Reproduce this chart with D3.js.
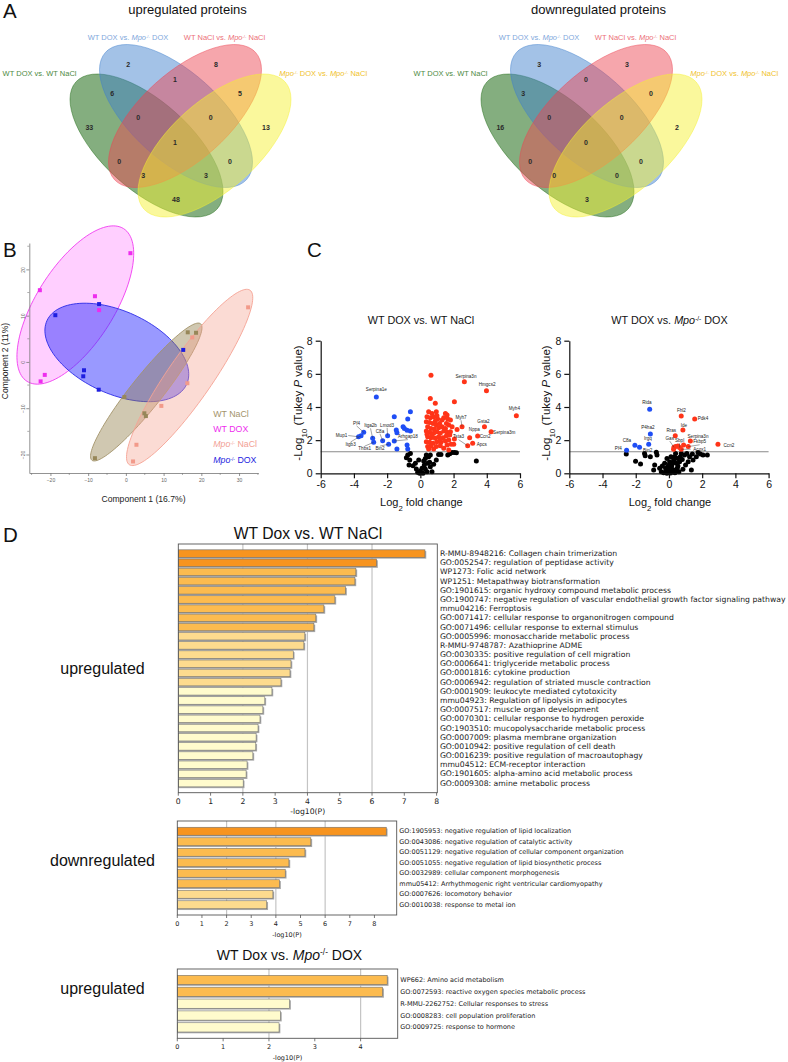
<!DOCTYPE html>
<html><head><meta charset="utf-8">
<script src="https://cdn.jsdelivr.net/npm/d3@7"></script>
<style>
body{margin:0;background:#fff;}
svg{display:block;font-family:"Liberation Sans",Arial,Helvetica,sans-serif;}
text{white-space:pre;}
</style>
</head><body>
<svg id="fig" width="788" height="1062"></svg>
<script>
// ================= DATA =================
// Panel A: Venn
const vennNames = ["WT DOX vs. WT NaCl","WT DOX vs. Mpo-/- DOX","WT NaCl vs. Mpo-/- NaCl","Mpo-/- DOX vs. Mpo-/- NaCl"];
const vennRegions = ["B","R","BR","GB","RY","G","GBR","BRY","Y","GBRY","GR","BY","GRY","GBY","GY"];
const vennUpCounts   = [2,8,1,6,5,33,0,0,13,1,0,0,3,3,48];
const vennDownCounts = [3,3,0,3,0,16,0,0,2,0,0,0,0,0,3];
const vennTitles = ["upregulated proteins","downregulated proteins"];

// Panel B: PCA scores (Component 1, Component 2)
const pcaGroups = ["WT NaCl","WT DOX","Mpo-/- NaCl","Mpo-/- DOX"];
const pcaWTNaClX  = [16.4,18.6,-0.4,4.9,5.3,-8.2];
const pcaWTNaClY  = [6.4,6.3,-7.6,-11.1,-11.7,-20.8];
const pcaWTDOXX   = [-22.8,-8.2,-7.1,-21.5,-22.6,1.2];
const pcaWTDOXY   = [15.5,14.2,11.2,-2.8,-4.2,23.5];
const pcaMpoNaClX = [32.4,17.6,16.3,9.4,2.8,1.9];
const pcaMpoNaClY = [11.8,5.3,-4.6,-9.5,-17.9,-21.5];
const pcaMpoDOXX  = [-7.1,-18.7,15.2,-11.1,-11.3,-7.2];
const pcaMpoDOXY  = [12.5,10.1,2.6,-1.8,-3.1,-6.0];
// confidence ellipses: centre, major semi-axis vector, minor semi-axis vector (data units)
const pcaEllipseCentre = [[5.4,-6.5],[-13.4,12.3],[16.9,-3.35],[-2.4,2.05]];
const pcaEllipseMajor  = [[14.4,14.75],[12.8,16.5],[16.0,18.85],[18.5,-6.9]];
const pcaEllipseMinor  = [[3.3,-2.1],[8.7,-4.5],[4.9,-2.7],[-4.6,-8.1]];
const pcaXTicks = [-20,-10,0,10,20,30];
const pcaYTicks = [-20,-10,0,10,20];

// Panel C: volcano plots [log2FC, -log10 P]
const sigLine = 1.3;
const v1Down = [[-2.65,4.61],[-0.6,3.71],[-1.57,3.41],[-0.76,3.27],[-1.04,2.81],[-0.96,2.71],[-0.8,2.59],[-0.6,2.55],
  [-1.45,2.61],[-1.41,2.45],[-1.97,2.27],[-2.27,1.96],[-1.57,1.95],[-2.87,2.11],[-3.41,2.47],[-3.57,2.27],[-3.72,2.2],
  [-2.81,1.87],[-1.91,1.76],[-1.41,1.46],[-0.8,1.7],[-0.76,1.46]];
const v1Up = [[0.64,5.92],[2.65,5.52],[3.98,4.98],[5.78,3.47],[0.6,4.52],[2.05,4.32],[0.9,4.22],[2.51,2.81],[3.86,2.81],
  [2.97,2.15],[4.26,2.51],[3.45,2.25],[2.85,1.66],[3.15,1.81],[2.21,2.65],[2.05,2.07],[2.01,1.75],
  [0.50,3.71],[0.70,3.61],[0.96,3.71],[1.51,3.61],[1.61,3.51],[0.40,3.41],[0.60,3.35],[0.80,3.41],[1.04,3.27],[1.41,3.35],
  [1.65,3.27],[0.36,3.11],[0.56,3.07],[0.76,3.01],[0.96,2.91],[1.16,3.01],[0.44,2.81],[0.64,2.71],[0.84,2.67],[1.10,2.75],
  [1.31,2.81],[1.51,2.71],[1.71,2.91],[0.36,2.55],[0.56,2.47],[0.80,2.41],[1.00,2.51],[1.20,2.41],[1.41,2.55],[1.61,2.47],
  [1.81,2.51],[0.44,2.21],[0.64,2.15],[0.90,2.11],[1.10,2.21],[1.37,2.15],[1.57,2.27],[1.77,2.31],[0.36,1.91],[0.56,1.87],
  [0.76,1.81],[1.00,1.91],[1.24,1.87],[1.51,1.95],[1.71,2.01],[0.44,1.61],[0.64,1.66],[0.96,1.61],[1.20,1.66],[1.61,1.70],
  [1.85,1.75],[0.80,1.47],[0.50,1.47],[1.41,1.51],[1.71,1.41],[1.91,2.81],[1.81,3.21],[0.90,3.15],[0.70,2.31],[1.31,3.21],
  [1.00,3.47],[1.57,3.01],[0.40,2.35],[1.20,2.01]];
const v1NS = [[-0.6,1.2],[-0.76,1.1],[-0.84,0.94],[-0.64,0.8],[-0.68,0.5],[-0.44,0.46],[-0.24,0.26],[-0.16,0.06],[0,0.14],
  [0.1,0.3],[0.24,0.5],[0.3,0.26],[0.4,0.1],[0.16,0],[-0.04,0],[0.44,0.6],[0.56,0.66],[0.6,0.4],[0.7,0.1],[0.5,1.0],
  [0.36,1.1],[0.6,1.1],[1.1,1.14],[1.24,1.14],[0.96,0.8],[0.8,0.54],[1.65,1.1],[1.77,1.18],[1.91,1.26],[2.05,1.25],
  [2.17,1.24],[3.37,0.74],[-0.3,0.6],[-0.1,0.8],[0.2,0.74],[0.3,0.9]];
const v1Labels = [["Serpina1e",-2.65,5.06],["Pf4",-3.84,3.03,-3.41,2.47],["Itga2b",-3.0,2.88,-2.87,2.11],
  ["Lmod3",-2.0,2.91,-1.97,2.27],["C8a",-2.43,2.55,-2.27,1.96],["Mup1",-4.4,2.28,-3.72,2.2],["Itgb3",-4.2,1.72,-3.57,2.27],
  ["Thbs1",-3.35,1.47,-2.81,1.87],["Bin2",-2.43,1.47,-1.91,1.76],["Arhgap18",-0.75,2.2,-1.57,1.95],
  ["Serpina3n",2.75,5.82],["Hmgcs2",4.02,5.38],["Myh4",5.66,3.92],["Myh7",2.45,3.37,2.51,2.81],["Gsta2",3.8,3.11],
  ["Nppa",3.25,2.65],["Serpina3m",5.05,2.47],["Tsta3",2.3,2.2,2.85,1.66],["Ccn2",3.9,2.2],["Apcs",3.7,1.76]];

const v2Down = [[-1.16,3.86],[-1.12,2.37],[-1.22,1.75],[-2.05,1.69],[-1.77,1.57],[-2.55,1.39]];
const v2Up = [[0.74,3.45],[1.55,3.27],[0.84,2.61],[0.38,2.27],[1.29,1.95],[2.95,1.75],[0.30,1.57],[0.40,1.61],
  [0.88,1.71],[0.74,1.45],[1.16,1.61],[0.28,1.45],[0.64,1.55],[0.54,1.65]];
const v2NS = [[-2.57,1.16],[-2.01,0.72],[-1.71,0.56],[-1.47,1.2],[-1.43,1.06],[-0.76,1.27],[-0.72,1.1],[-0.86,0.5],
  [-0.92,0.2],[-0.56,0.3],[-0.4,0.44],[-0.26,0.6],[-0.46,0.1],[-0.16,0.2],[-0.06,0.4],[0.04,0.1],[0.14,0.3],[0.2,0.6],
  [0.28,0.8],[0.34,1.0],[0.4,1.2],[0.24,0.1],[0.44,0.2],[0.54,0.44],[0.64,0.7],[0.68,1.0],[0.74,1.2],[0.6,0.1],[0.84,0.24],
  [1.0,0.5],[1.16,0.7],[1.35,0.2],[1.45,0.8],[1.24,1.0],[1.41,1.16],[1.75,1.25],[1.89,1.16],[2.05,1.1],[2.31,1.1],[1.65,1.0],
  [-0.12,0.9],[0.04,0.7],[-0.32,0.04],[-0.12,0],[0.36,0.04],[0.16,0.44],[0.44,0.6],[0.8,0.84],[0.94,1.1],[1.08,1.2],
  [0.52,0.9],[0.12,1.0],[0,0.5],[-0.2,0.3],[-1.12,1.0],[0.1,0.02],[0.3,0.2],[0.5,0.3],[0.2,0.15],[0.05,0.25]];
const v2Labels = [["Rida",-1.33,4.25],["Fhl2",0.75,3.77],["Pdk4",2.05,3.31],["Ide",0.9,2.91],["P4ha2",-1.27,2.77],
  ["Rras",0.14,2.57],["Irgq",-1.27,2.11],["Serpina3n",1.75,2.25],["Gas",0.05,2.11,0.3,1.57],["Sbpl",0.64,1.98,0.64,1.55],
  ["Fkbp5",1.85,1.89,1.16,1.61],["C8a",-2.53,1.96],["Pf4",-3.05,1.5],["Bin2",-1.28,1.38],["Acox1",1.85,1.45,0.74,1.45],
  ["Ccn2",3.61,1.7]];
const volcTitles = ["WT DOX vs. WT NaCl","WT DOX vs. Mpo-/- DOX"];
const volcXTicks = [-6,-4,-2,0,2,4,6];
const volcYTicks = [0,2,4,6,8];

// Panel D: enrichment bar charts (-log10 P)
const enrUpTerms = ["R-MMU-8948216: Collagen chain trimerization","GO:0052547: regulation of peptidase activity",
  "WP1273: Folic acid network","WP1251: Metapathway biotransformation","GO:1901615: organic hydroxy compound metabolic process",
  "GO:1900747: negative regulation of vascular endothelial growth factor signaling pathway","mmu04216: Ferroptosis",
  "GO:0071417: cellular response to organonitrogen compound","GO:0071496: cellular response to external stimulus",
  "GO:0005996: monosaccharide metabolic process","R-MMU-9748787: Azathioprine ADME",
  "GO:0030335: positive regulation of cell migration","GO:0006641: triglyceride metabolic process",
  "GO:0001816: cytokine production","GO:0006942: regulation of striated muscle contraction",
  "GO:0001909: leukocyte mediated cytotoxicity","mmu04923: Regulation of lipolysis in adipocytes",
  "GO:0007517: muscle organ development","GO:0070301: cellular response to hydrogen peroxide",
  "GO:1903510: mucopolysaccharide metabolic process","GO:0007009: plasma membrane organization",
  "GO:0010942: positive regulation of cell death","GO:0016239: positive regulation of macroautophagy",
  "mmu04512: ECM-receptor interaction","GO:1901605: alpha-amino acid metabolic process","GO:0009308: amine metabolic process"];
const enrUpValues = [7.64,6.14,5.50,5.47,5.18,4.85,4.51,4.26,4.20,3.92,3.89,3.56,3.49,3.46,3.18,2.90,2.68,2.62,2.53,2.47,2.41,2.40,2.31,2.13,2.10,2.01];
const enrDownTerms = ["GO:1905953: negative regulation of lipid localization","GO:0043086: negative regulation of catalytic activity",
  "GO:0051129: negative regulation of cellular component organization","GO:0051055: negative regulation of lipid biosynthetic process",
  "GO:0032989: cellular component morphogenesis","mmu05412: Arrhythmogenic right ventricular cardiomyopathy",
  "GO:0007626: locomotory behavior","GO:0010038: response to metal ion"];
const enrDownValues = [8.48,5.42,5.18,4.53,4.38,4.15,3.88,3.63];
const enrMpoTerms = ["WP662: Amino acid metabolism","GO:0072593: reactive oxygen species metabolic process",
  "R-MMU-2262752: Cellular responses to stress","GO:0008283: cell population proliferation","GO:0009725: response to hormone"];
const enrMpoValues = [4.58,4.48,2.45,2.25,2.22];
const enrTitles = ["WT Dox vs. WT NaCl","WT Dox vs. Mpo-/- DOX"];
const enrSideLabels = ["upregulated","downregulated","upregulated"];

// ================= DRAWING =================
const svg = d3.select("#fig");
svg.append("rect").attr("width",788).attr("height",1062).attr("fill","#fff");

function rich(sel, str, supSize){
  str.split(/(Mpo-\/-)/).forEach(p=>{
    if(p==="Mpo-/-"){
      sel.append("tspan").attr("font-style","italic").text("Mpo");
      sel.append("tspan").attr("baseline-shift","super").attr("font-size",supSize||"55%").text("-/-");
    } else if(p){ sel.append("tspan").text(p); }
  });
  return sel;
}

// panel letters
[["A",3,18],["B",3,257],["C",307,257],["D",3,541.5]].forEach(([t,x,y])=>
  svg.append("text").attr("x",x).attr("y",y).attr("font-size",20.5).attr("fill","#111").text(t));

// ---------- Panel A ----------
const vennFill = ["#1f6b16","#3f80cc","#ec4552","#f4f030"];
const vennLabelCol = ["#4d8a42","#7fa8dc","#ec6f79","#f0c22c"];
const vennGeom = [ {dx:-0.34,dy:0.155,rot:42}, {dx:-0.045,dy:-0.14,rot:42}, {dx:0.045,dy:-0.14,rot:-42}, {dx:0.34,dy:0.155,rot:-42} ];
const vennRegionPos = {B:[-.522,-.66],R:[.355,-.66],BR:[-.055,-.51],GB:[-.682,-.37],RY:[.595,-.37],G:[-.912,-.03],
  GBR:[-.422,-.13],BRY:[.302,-.13],Y:[.855,-.03],GBRY:[-.055,.12],GR:[-.612,.31],BY:[.495,.31],GRY:[-.372,.45],GBY:[.255,.45],GY:[-.045,.69]};
const vennLabelPos = [[-1.04,-.54,"end"],[-.525,-.90,"middle"],[.44,-.90,"middle"],[.988,-.54,"start"]];

function drawVenn(cx, cy, title, counts){
  const sx = d3.scaleLinear().domain([-1,1]).range([cx-100,cx+100]);
  const sy = d3.scaleLinear().domain([-1,1]).range([cy-100,cy+100]);
  const r = d3.scaleLinear().domain([0,1]).range([0,100]);
  const g = svg.append("g");
  vennGeom.forEach((e,i)=>{
    const ex = sx(e.dx), ey = sy(e.dy);
    g.append("ellipse").attr("cx",ex).attr("cy",ey).attr("rx",r(0.95)).attr("ry",r(0.44))
      .attr("transform",`rotate(${e.rot},${ex},${ey})`)
      .attr("fill",vennFill[i]).attr("fill-opacity",i===0?0.55:0.48)
      .attr("stroke",vennFill[i]).attr("stroke-opacity",0.55).attr("stroke-width",0.8);
  });
  vennRegions.forEach((k,i)=>{
    const [px,py] = vennRegionPos[k];
    g.append("text").attr("x",sx(px)).attr("y",sy(py)).attr("text-anchor","middle").attr("dominant-baseline","central")
      .attr("font-size",7).attr("font-weight","bold").attr("fill","#2a2a2a").text(counts[i]);
  });
  vennNames.forEach((n,i)=>{
    const [px,py,anc] = vennLabelPos[i];
    rich(g.append("text").attr("x",sx(px)).attr("y",sy(py)).attr("text-anchor",anc).attr("font-size",7.5)
      .attr("fill",vennLabelCol[i]), n);
  });
  g.append("text").attr("x",sx(0.07)).attr("y",sy(-1.165)).attr("text-anchor","middle").attr("font-size",13)
    .attr("fill","#111").text(title);
}
drawVenn(180.5,130,vennTitles[0],vennUpCounts);
drawVenn(591.5,130,vennTitles[1],vennDownCounts);

// ---------- Panel B ----------
(function(){
  const x = d3.scaleLinear().domain([-25.6,35.1]).range([29.3,258.3]);
  const y = d3.scaleLinear().domain([-24,25.7]).range([473,243]);
  const cols = ["#a3936a","#f03cf0","#f5a394","#2a2ae6"];
  const ptCols = ["#978759","#ee2cee","#f29a8a","#1e1ee0"];
  const fills = [["#8f7d45",0.42],["#ff40ff",0.25],["#f4a08e",0.38],["#3434ff",0.5]];
  const xs = [pcaWTNaClX,pcaWTDOXX,pcaMpoNaClX,pcaMpoDOXX];
  const ys = [pcaWTNaClY,pcaWTDOXY,pcaMpoNaClY,pcaMpoDOXY];
  const g = svg.append("g");
  const order = [1,3,0,2];
  order.forEach(i=>{
    const [cx,cy] = pcaEllipseCentre[i], [ux,uy] = pcaEllipseMajor[i], [vx,vy] = pcaEllipseMinor[i];
    const pts = d3.range(0,361,3).map(a=>{const t=a*Math.PI/180;
      return [x(cx+ux*Math.cos(t)+vx*Math.sin(t)), y(cy+uy*Math.cos(t)+vy*Math.sin(t))];});
    g.append("path").attr("d",d3.line()(pts)+"Z").attr("fill",fills[i][0]).attr("fill-opacity",fills[i][1])
      .attr("stroke",cols[i]).attr("stroke-width",0.9);
  });
  order.forEach(i=>{
    xs[i].forEach((vx,j)=>{
      g.append("rect").attr("x",x(vx)-2).attr("y",y(ys[i][j])-2).attr("width",4).attr("height",4).attr("fill",ptCols[i]);
    });
  });
  const ax = g.append("g").attr("transform",`translate(0,${y(-24)})`)
    .call(d3.axisBottom(x).tickValues(pcaXTicks).tickSize(3).tickSizeOuter(0).tickPadding(2));
  const ay = g.append("g").attr("transform",`translate(${x(-25.6)},0)`)
    .call(d3.axisLeft(y).tickValues(pcaYTicks).tickSize(3).tickSizeOuter(0).tickPadding(2));
  [ax,ay].forEach(a=>{a.selectAll("path,line").attr("stroke","#777").attr("stroke-width",0.8);
    a.selectAll("text").attr("font-size",5).attr("fill","#666").attr("font-family",'"Liberation Sans",Arial,sans-serif');});
  ay.selectAll(".tick text").attr("text-anchor","middle").attr("x",-6).attr("dy","0.3em")
    .attr("transform","rotate(-90,-6,0)");
  d3.range(-25,36,10).forEach(v=>g.append("line").attr("x1",x(v)).attr("x2",x(v)).attr("y1",y(-24)).attr("y2",y(-24)+2).attr("stroke","#777").attr("stroke-width",0.6));
  d3.range(-15,26,10).forEach(v=>g.append("line").attr("x1",x(-25.6)).attr("x2",x(-25.6)-2).attr("y1",y(v)).attr("y2",y(v)).attr("stroke","#777").attr("stroke-width",0.6));
  g.append("text").attr("x",143.5).attr("y",502).attr("text-anchor","middle").attr("font-size",8.6).attr("fill","#222").text("Component 1 (16.7%)");
  g.append("text").attr("transform","translate(7.5,361) rotate(-90)").attr("text-anchor","middle").attr("font-size",8.6).attr("fill","#222").text("Component 2 (11%)");
  const legCols = ["#a3936a","#ee2cee","#f2a094","#2222e0"];
  pcaGroups.forEach((n,i)=>{
    rich(g.append("text").attr("x",213.3).attr("y",417+i*15.2).attr("font-size",8.8).attr("fill",legCols[i]), n);
  });
})();

// ---------- Panel C ----------
function volcano(left, title, down, up, ns, labels, titleX){
  const x = d3.scaleLinear().domain([-6,6]).range([left,left+199.3]);
  const y = d3.scaleLinear().domain([0,8]).range([473.3,340.7]);
  const g = svg.append("g");
  g.append("line").attr("x1",x(-6)).attr("x2",x(6)).attr("y1",y(sigLine)).attr("y2",y(sigLine))
    .attr("stroke","#8a8a8a").attr("stroke-width",1);
  const draw = (arr,c)=> arr.forEach(([a,b])=> g.append("circle").attr("cx",x(a)).attr("cy",y(b)).attr("r",2.5).attr("fill",c));
  draw(ns,"#000"); draw(down,"#1f4ef5"); draw(up,"#ff3418");
  labels.forEach(l=>{
    const [n,lx,ly,px,py] = l;
    const anc = n==="Mup1" ? "end" : "middle";
    g.append("text").attr("x",x(lx)).attr("y",y(ly)).attr("text-anchor",anc).attr("dominant-baseline","central")
      .attr("font-size",4.6).attr("fill","#222").text(n);
    if(px!==undefined){
      const X0 = x(lx), Y0 = y(ly), X1 = x(px), Y1 = y(py);
      const dyS = Math.abs(Y1-Y0) > 4 ? (Y1>Y0 ? 2.8 : -2.8) : 0;
      const dxS = dyS===0 ? (X1>X0 ? (anc==="end"?1:9) : -9) : 0;
      g.append("line").attr("x1",X0+dxS).attr("y1",Y0+dyS).attr("x2",X1).attr("y2",Y1)
        .attr("stroke","#333").attr("stroke-width",0.45);
    }
  });
  const ax = g.append("g").attr("transform",`translate(0,${y(0)})`)
    .call(d3.axisBottom(x).tickValues(volcXTicks).tickSize(5).tickSizeOuter(0).tickPadding(2).tickFormat(d=>String(d)));
  const ay = g.append("g").attr("transform",`translate(${x(-6)},0)`)
    .call(d3.axisLeft(y).tickValues(volcYTicks).tickSize(5).tickSizeOuter(0).tickPadding(3).tickFormat(d=>String(d)));
  [ax,ay].forEach(a=>{a.selectAll("path,line").attr("stroke","#111").attr("stroke-width",1.2);
    a.selectAll("text").attr("font-size",10.5).attr("fill","#111").attr("font-family",'"Liberation Sans",Arial,sans-serif');});
  rich(g.append("text").attr("x",titleX).attr("y",324).attr("text-anchor","middle").attr("font-size",10.8).attr("fill","#111"), title, "60%");
  const xl = g.append("text").attr("x",x(0)+1).attr("y",505.5).attr("text-anchor","middle").attr("font-size",11).attr("fill","#111");
  xl.append("tspan").text("Log");
  xl.append("tspan").attr("baseline-shift","sub").attr("font-size","70%").text("2");
  xl.append("tspan").text(" fold change");
  const yl = g.append("text").attr("transform",`translate(${x(-6)-19},403) rotate(-90)`).attr("text-anchor","middle")
    .attr("font-size",11.5).attr("fill","#111");
  yl.append("tspan").text("-Log");
  yl.append("tspan").attr("baseline-shift","sub").attr("font-size","70%").text("10");
  yl.append("tspan").text(" (Tukey ");
  yl.append("tspan").attr("font-style","italic").text("P");
  yl.append("tspan").text(" value)");
}
volcano(320.7, volcTitles[0], v1Down, v1Up, v1NS, v1Labels, 421);
volcano(569.3, volcTitles[1], v2Down, v2Up, v2NS, v2Labels, 669.5);

// ---------- Panel D ----------
function enrColor(v){ return v>=6 ? "#f7941f" : v>=4 ? "#fcbb4f" : v>=3 ? "#fddb8e" : "#fffbcd"; }
function barChart(terms, values, fx0, fx1, fy0, fy1, pad, fs){
  const x = d3.scaleLinear().domain([0, d3.max(values)*1.05]).range([fx0,fx1]);
  const y = d3.scaleBand().domain(terms).range([fy0+5, fy1-5]).paddingInner(pad).paddingOuter(pad/2);
  const g = svg.append("g");
  const fam = '"DejaVu Sans",Verdana,sans-serif';
  [2,4,6].filter(v=>v < x.domain()[1]).forEach(v=> g.append("line").attr("x1",x(v)).attr("x2",x(v)).attr("y1",fy0).attr("y2",fy1)
    .attr("stroke","#c4c4c4").attr("stroke-width",1.2));
  terms.forEach((t,i)=>{
    const v = values[i], yy = y(t), h = y.bandwidth();
    g.append("rect").attr("x",x(0)).attr("y",yy+1.3).attr("width",x(v)-x(0)+1.3).attr("height",h).attr("fill","#a8a8a8");
    g.append("rect").attr("x",x(0)).attr("y",yy).attr("width",x(v)-x(0)).attr("height",h)
      .attr("fill",enrColor(v)).attr("stroke","#707070").attr("stroke-width",0.6);
    g.append("text").attr("x",fx1+2.6).attr("y",yy+h/2).attr("dominant-baseline","central")
      .attr("font-family",fam).attr("font-size",fs).attr("fill","#222").text(t);
  });
  g.append("rect").attr("x",fx0).attr("y",fy0).attr("width",fx1-fx0).attr("height",fy1-fy0)
    .attr("fill","none").attr("stroke","#555").attr("stroke-width",0.9);
  const ticks = d3.range(0, Math.floor(x.domain()[1])+1);
  ticks.forEach(v=>{
    g.append("line").attr("x1",x(v)).attr("x2",x(v)).attr("y1",fy1).attr("y2",fy1+3).attr("stroke","#555").attr("stroke-width",0.8);
    g.append("text").attr("x",x(v)).attr("y",fy1+11).attr("text-anchor","middle").attr("font-family",fam)
      .attr("font-size",fs).attr("fill","#222").text(v);
  });
  g.append("text").attr("x",(fx0+fx1)/2).attr("y",fy1+21.5).attr("text-anchor","middle").attr("font-family",fam)
    .attr("font-size",fs).attr("fill","#222").text("-log10(P)");
}
barChart(enrUpTerms, enrUpValues, 178.3, 437.3, 544, 792.7, 0.18, 7.7);
barChart(enrDownTerms, enrDownValues, 177.3, 396.7, 821, 915, 0.24, 6.5);
barChart(enrMpoTerms, enrMpoValues, 177.3, 397.7, 969, 1038.3, 0.22, 6.5);

svg.append("text").attr("x",308).attr("y",538.5).attr("text-anchor","middle").attr("font-size",15.7).attr("fill","#111").text(enrTitles[0]);
rich(svg.append("text").attr("x",289.5).attr("y",960).attr("text-anchor","middle").attr("font-size",14).attr("fill","#111"), enrTitles[1], "60%");
[[674],[866],[994]].forEach(([yy],i)=> svg.append("text").attr("x",102.5).attr("y",yy).attr("text-anchor","middle")
  .attr("font-size",16).attr("fill","#111").text(enrSideLabels[i]));
</script>
</body></html>
